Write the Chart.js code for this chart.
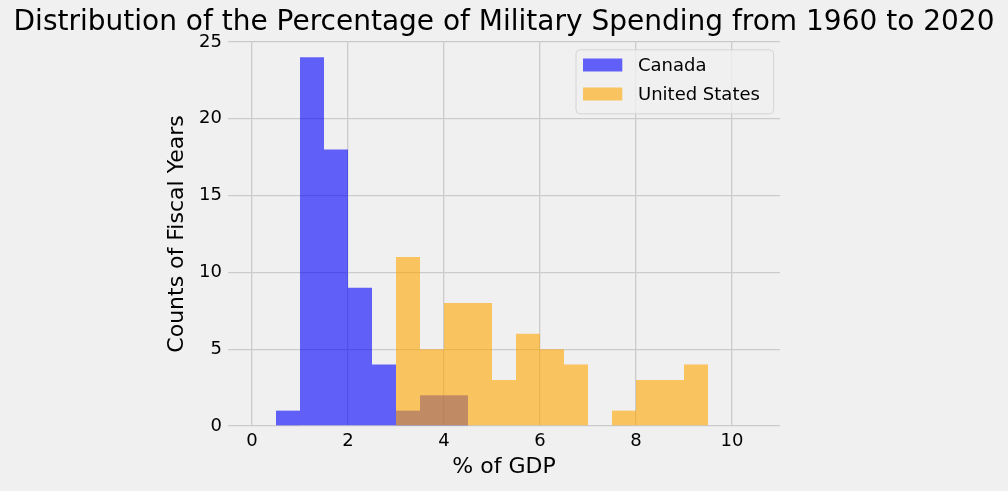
<!DOCTYPE html>
<html>
<head>
<meta charset="utf-8">
<script src="https://cdn.jsdelivr.net/npm/chart.js@4"></script>
<style>
  html, body { margin: 0; padding: 0; background: #f0f0f0; }
  #wrap { width: 1008px; height: 491px; }
</style>
</head>
<body>
<div id="wrap"><canvas id="hist" width="1008" height="491"></canvas></div>
<script>
// histogram bins (left edge of each 0.5-wide bin, % of GDP)
const binStarts = [0.5, 1.0, 1.5, 2.0, 2.5, 3.0, 3.5, 4.0, 4.5, 5.0, 5.5, 6.0, 6.5, 7.0, 7.5, 8.0, 8.5, 9.0];
const binWidth = 0.5;

// counts of fiscal years per bin
const canada       = [1, 24, 18, 9, 4, 1, 2, 2, 0, 0, 0, 0, 0, 0, 0, 0, 0, 0];
const unitedStates = [0,  0,  0, 0, 0, 11, 5, 8, 8, 3, 6, 5, 4, 0, 1, 3, 3, 4];

const xTicks = [0, 2, 4, 6, 8, 10];
const yTicks = [0, 5, 10, 15, 20, 25];

const titleText = 'Distribution of the Percentage of Military Spending from 1960 to 2020';

const toPoints = counts => binStarts.map((b, i) => ({ x: b + binWidth / 2, y: counts[i] }));

Chart.defaults.font.family = "'DejaVu Sans', sans-serif";
Chart.defaults.color = '#000';

// title centred over the plot area (not squeezed by the right padding)
const axesTitle = {
  id: 'axesTitle',
  afterDraw(chart) {
    const { ctx, chartArea } = chart;
    ctx.save();
    ctx.font = "28px 'DejaVu Sans'";
    ctx.fillStyle = '#000';
    ctx.textAlign = 'center';
    ctx.textBaseline = 'alphabetic';
    ctx.fillText(titleText, (chartArea.left + chartArea.right) / 2, 29.5);
    ctx.restore();
  }
};

// matplotlib-style legend drawn inside the plot, upper right
const insideLegend = {
  id: 'insideLegend',
  afterDraw(chart) {
    const { ctx, chartArea } = chart;
    const w = 197.6, h = 64;
    const x0 = chartArea.right - 6.4 - w;
    const y0 = chartArea.top + 7.8;
    ctx.save();
    ctx.beginPath();
    ctx.roundRect(x0, y0, w, h, 4);
    ctx.fillStyle = 'rgba(240,240,240,0.8)';
    ctx.fill();
    ctx.strokeStyle = '#d4d4d4';
    ctx.lineWidth = 1;
    ctx.stroke();
    ctx.font = "18px 'DejaVu Sans'";
    ctx.textBaseline = 'middle';
    ctx.textAlign = 'left';
    chart.data.datasets.slice().sort((a, b) => b.order - a.order).forEach((ds, i) => {
      const sy = y0 + 8.7 + i * 29;
      ctx.fillStyle = ds.backgroundColor;
      ctx.fillRect(x0 + 7, sy, 39.3, 13);
      ctx.fillStyle = '#000';
      ctx.fillText(ds.label, x0 + 62, sy + 8);
    });
    ctx.restore();
  }
};

new Chart(document.getElementById('hist'), {
  type: 'bar',
  data: {
    datasets: [{
      label: 'Canada',
      data: toPoints(canada),
      backgroundColor: 'rgba(0, 0, 255, 0.6)',
      order: 1
    }, {
      label: 'United States',
      data: toPoints(unitedStates),
      backgroundColor: 'rgba(255, 165, 0, 0.6)',
      order: 0
    }]
  },
  options: {
    responsive: false,
    animation: false,
    devicePixelRatio: 1,
    // plot area 228..780 so every 0.5 bin is exactly 24px wide (no seams)
    layout: { padding: { left: 0, right: 228, top: 42, bottom: 0 } },
    datasets: {
      bar: { grouped: false, barPercentage: 1, categoryPercentage: 1, borderWidth: 0, inflateAmount: 0 }
    },
    plugins: {
      legend: { display: false },
      tooltip: { enabled: false },
      title: { display: false }
    },
    scales: {
      x: {
        type: 'linear',
        offset: false,
        min: -0.5,
        max: 11,
        afterBuildTicks: s => { s.ticks = xTicks.map(v => ({ value: v })); },
        afterFit: s => { s.height = 65; },
        ticks: { font: { size: 18 }, padding: 5, color: '#000' },
        grid: { color: '#cbcbcb', lineWidth: 1.3, drawTicks: false, offset: false },
        border: { display: false },
        title: {
          display: true,
          text: '% of GDP',
          font: { size: 22 },
          padding: { top: 0, bottom: 10.8 }
        }
      },
      y: {
        min: 0,
        max: 25,
        afterBuildTicks: s => { s.ticks = yTicks.map(v => ({ value: v })); },
        afterFit: s => { s.width = 228; },
        ticks: { font: { size: 18 }, padding: 6, color: '#000' },
        grid: { color: '#cbcbcb', lineWidth: 1.3, drawTicks: false },
        border: { display: false },
        title: {
          display: true,
          text: 'Counts of Fiscal Years',
          font: { size: 22 },
          padding: { top: 163.8, bottom: 0 }
        }
      }
    }
  },
  plugins: [axesTitle, insideLegend]
});
</script>
</body>
</html>
